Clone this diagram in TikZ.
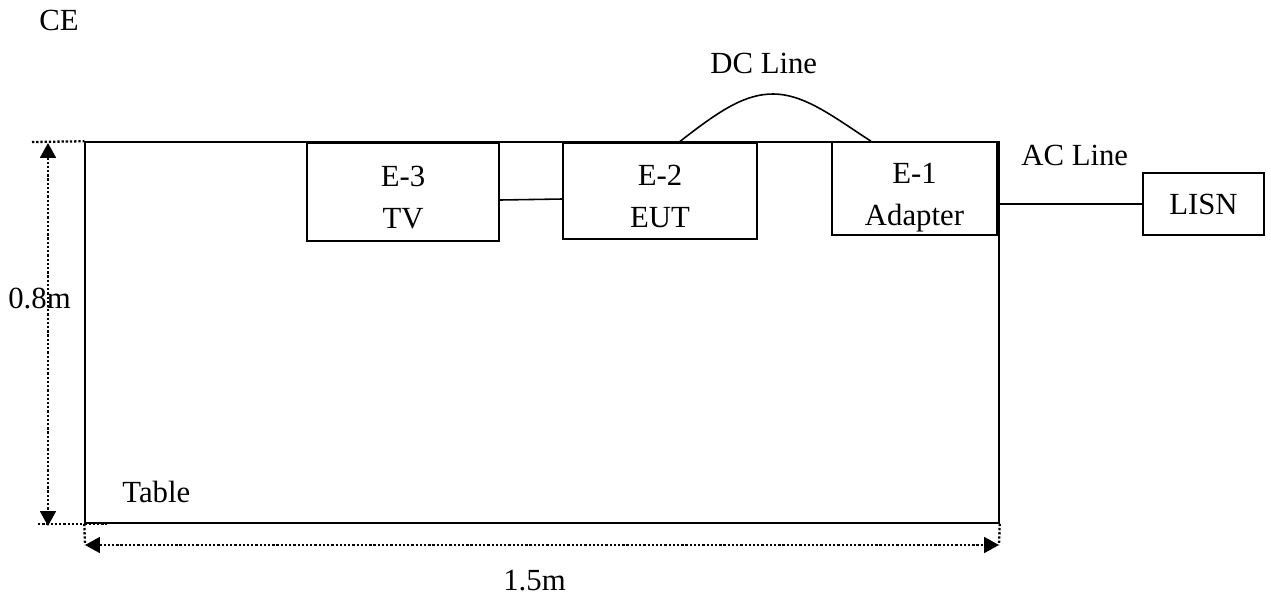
\documentclass[tikz,border=0pt]{standalone}
\usepackage{fontspec}
\setmainfont{Liberation Serif}
\usetikzlibrary{arrows.meta}

\tikzset{
  unit/.style={draw, line width=0.9pt, inner sep=0pt, align=center,
    font=\fontsize{17.5}{24}\selectfont},
  label/.style={inner sep=0pt, anchor=base west, font=\fontsize{17.5}{24}\selectfont},
  dimline/.style={line width=1.3pt, dash pattern=on 1.3pt off 1.1pt},
  dimtip/.style={{Triangle[length=8.5pt,width=9pt]}-{Triangle[length=8.5pt,width=9pt]}}
}

\begin{document}
\begin{tikzpicture}[x=0.02cm, y=-0.02cm]
  \useasboundingbox (0,0) rectangle (1271,603);
  % table and units
  \node[unit, minimum width=18.28cm, minimum height=7.62cm] (table) at (542,332.5) {};
  \node[unit, fill=white, minimum width=3.84cm, minimum height=1.96cm] (tv) at (403,192) {\rule{0pt}{18pt}E-3\\TV};
  \node[unit, fill=white, minimum width=3.88cm, minimum height=1.92cm] (eut) at (660,191) {\rule{0pt}{18pt}E-2\\EUT};
  \node[unit, fill=white, minimum width=3.30cm, minimum height=1.86cm] (adapter) at (914.5,188.5) {\rule{0pt}{22pt}E-1\\Adapter};
  \node[unit, minimum width=2.42cm, minimum height=1.24cm] (lisn) at (1203.5,204) {LISN};

  \node[label] (ce) at (39,30) {CE};
  \node[label] (dc) at (710,73) {DC Line};
  \node[label] (ac) at (1021,165) {AC Line};
  \node[label] (tablename) at (122,502) {Table};
  \node[label] (height) at (8,308) {0.8m};
  \node[label] (width) at (503,590) {1.5m};

  % cables
  \draw[line width=0.9pt] ([yshift=-0.16cm]tv.east) -- ([yshift=-0.16cm]eut.west);
  \draw[line width=0.9pt] (adapter.east |- lisn.west) -- (lisn.west);
  \draw[line width=0.9pt] ([xshift=0.38cm]eut.north)
    .. controls (720,110) and (745,94) .. (773,94)
    .. controls (805,94) and (835,118) .. ([xshift=-0.87cm]adapter.north);

  % dimensions
  \coordinate (topext) at (32,142);
  \coordinate (botext) at (38,524);
  \coordinate (leftext) at (85,545);
  \coordinate (rightext) at (999,545);
  \draw[dimline] (topext) -- (table.north west);
  \draw[dimline] (botext) -- (107,524);
  \draw[dimline] (table.south west) -- (leftext);
  \draw[dimline] (table.south east) -- (rightext);
  \draw[dimline, dimtip] (48,143) -- (48,526);
  \draw[dimline, dimtip] (leftext) -- (rightext);
\end{tikzpicture}
\end{document}
